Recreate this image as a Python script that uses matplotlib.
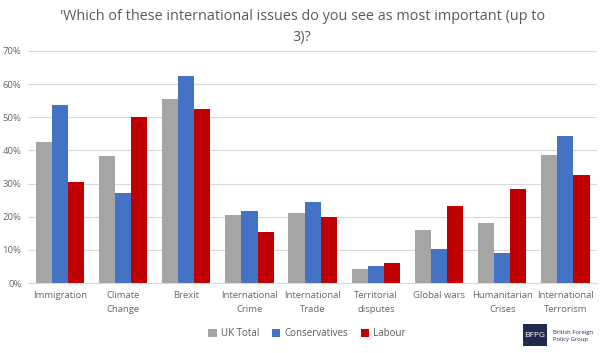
import matplotlib.pyplot as plt
import numpy as np
from matplotlib.patches import Rectangle

categories = ["Immigration", "Climate\nChange", "Brexit", "International\nCrime",
              "International\nTrade", "Territorial\ndisputes", "Global wars",
              "Humanitarian\nCrises", "International\nTerrorism"]
uk_total = [42.5, 38.4, 55.4, 20.5, 21.0, 4.3, 15.9, 18.2, 38.7]
conservatives = [53.7, 27.2, 62.4, 21.7, 24.3, 5.2, 10.2, 9.0, 44.2]
labour = [30.4, 50.2, 52.6, 15.5, 19.8, 6.1, 23.2, 28.3, 32.6]

series = [("UK Total", uk_total, "#A5A5A5"),
          ("Conservatives", conservatives, "#4472C4"),
          ("Labour", labour, "#C00000")]

txt = "#595959"
plt.rcParams["font.family"] = ["Open Sans", "DejaVu Sans"]

fig = plt.figure(figsize=(6.03, 3.53), dpi=100)
ax = fig.add_axes([0.047, 0.198, 0.943, 0.658])

x = np.arange(len(categories))
w = 0.255
for i, (name, vals, col) in enumerate(series):
    ax.bar(x + (i - 1) * w, vals, w, color=col, label=name, zorder=2)

ax.set_ylim(0, 70)
ax.set_xlim(-0.5, len(categories) - 0.5)
ax.set_yticks(range(0, 71, 10))
ax.set_yticklabels([f"{v}%" for v in range(0, 71, 10)])
ax.set_xticks(x)
ax.set_xticklabels(categories, linespacing=1.65)
ax.tick_params(axis="both", length=0, labelsize=6.8, colors="#666666")
ax.tick_params(axis="x", pad=6)
ax.tick_params(axis="y", pad=5)
ax.grid(axis="y", color="#D9D9D9", linewidth=0.8, zorder=0)
for s in ["top", "right", "left"]:
    ax.spines[s].set_visible(False)
ax.spines["bottom"].set_color("#D9D9D9")

fig.text(0.501, 0.952, "'Which of these international issues do you see as most important (up to",
         ha="center", va="center", fontsize=10.4, color=txt)
fig.text(0.501, 0.895, "3)?", ha="center", va="center", fontsize=10.4, color=txt)

fig.legend(loc="center", bbox_to_anchor=(0.509, 0.054), ncol=3, frameon=False,
           fontsize=7, handlelength=0.9, handleheight=0.9, handletextpad=0.4,
           columnspacing=1.3, labelcolor=txt)

# logo
logo = fig.add_axes([0.867, 0.020, 0.040, 0.062])
logo.add_patch(Rectangle((0, 0), 1, 1, color="#1F2A4E"))
logo.text(0.5, 0.48, "BFPG", color="white", ha="center", va="center", fontsize=6)
logo.set_xlim(0, 1)
logo.set_ylim(0, 1)
logo.axis("off")
fig.text(0.917, 0.047, "British Foreign\nPolicy Group", fontsize=4.2, color="#1F2A4E",
         ha="left", va="center", linespacing=1.5)

fig.savefig("out.png", dpi=100)
